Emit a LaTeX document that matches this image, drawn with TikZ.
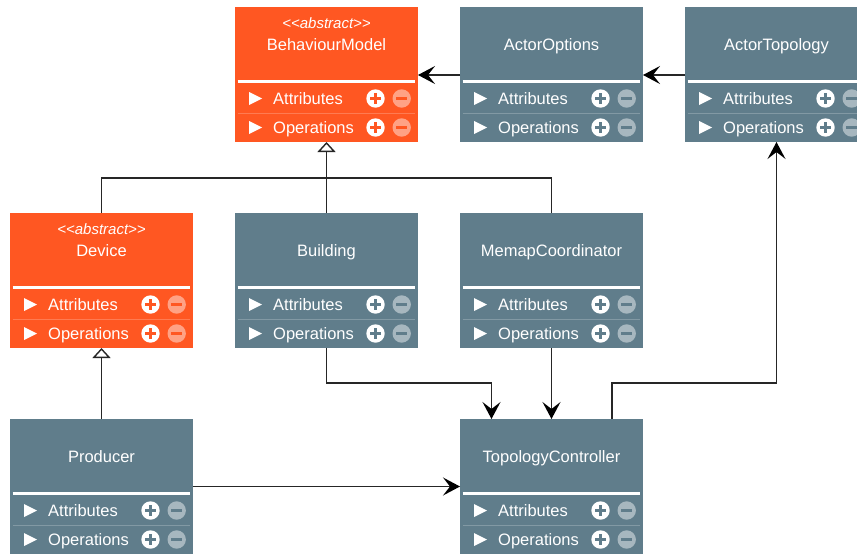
\documentclass[tikz,border=0pt]{standalone}
\usepackage{fontspec}
\setmainfont{Liberation Sans}
\usetikzlibrary{arrows.meta,calc}

\definecolor{umlorange}{HTML}{FF5722}
\definecolor{umlslate}{HTML}{607D8B}
\definecolor{wirecol}{HTML}{262626}

\tikzset{
  classbox/.style={anchor=north west, minimum width=183pt, minimum height=135pt,
    inner sep=0pt, outer sep=0pt},
  classname/.style={text=white, font=\fontsize{16.5}{18}\selectfont, inner sep=0pt,
    text height=12pt, text depth=0pt},
  stereo/.style={text=white, font=\fontsize{15}{17}\selectfont\itshape, inner sep=0pt,
    text height=11pt, text depth=0pt},
  rowlabel/.style={text=white, font=\fontsize{16.5}{18}\selectfont, anchor=west,
    inner sep=0pt, text height=12pt, text depth=0pt},
  wire/.style={draw=wirecol, line width=1.4pt},
  assoc/.style={wire, -{Stealth[length=17pt,width=18pt,inset=7pt,color=black]}},
  inherit/.style={wire, -{Triangle[open,length=10pt,width=18pt,fill=white,line width=1.4pt]}},
}

% compartment rows shared by every class box (local coordinates)
\newcommand\classrows[2]{%
  \draw[white, line width=2.5pt] (2.7,74.5) -- (180.3,74.5);
  \draw[white, opacity=0.22, line width=0.8pt] (2.7,106) -- (180.3,106);
  \foreach \yy/\lbl/\suffix in {91.5/Attributes/attr, 120.5/Operations/ops} {
    \fill[white] (14,\yy-6.5) -- (14,\yy+6.5) -- (27,\yy) -- cycle;
    \node[rowlabel] (#1-\suffix) at (38,\yy) {\lbl};
    \fill[white] (140.5,\yy) circle[radius=9.2pt];
    \draw[#2, line width=2.6pt] (135,\yy) -- (146,\yy) (140.5,\yy-5.5) -- (140.5,\yy+5.5);
    \fill[white, opacity=0.45] (166.7,\yy) circle[radius=9.2pt];
    \draw[#2, line width=2.6pt] (161.2,\yy) -- (172.2,\yy);
  }%
}

% plain class: name, x, y, colour, title
\newcommand\umlclass[5]{%
  \begin{scope}[shift={(#2,#3)}]
    \node[classbox, fill=#4] (#1) at (0,0) {};
    \node[classname] (#1-title) at (91.5,37.5) {#5};
    \classrows{#1}{#4}
  \end{scope}%
}

% abstract class: same with a stereotype line above the title
\newcommand\umlabstract[5]{%
  \begin{scope}[shift={(#2,#3)}]
    \node[classbox, fill=#4] (#1) at (0,0) {};
    \node[stereo] (#1-stereo) at (91.5,16) {{<}{<}abstract{>}{>}};
    \node[classname] (#1-title) at (91.5,37) {#5};
    \classrows{#1}{#4}
  \end{scope}%
}

\begin{document}
\begin{tikzpicture}[x=1pt, y=-1pt]
  \useasboundingbox (0,0) rectangle (857,554);
  \fill[white] (0,0) rectangle (857,554);
  \clip (0,0) rectangle (857,554);

  % classes
  \umlabstract{BehaviourModel}{235}{7}{umlorange}{BehaviourModel}
  \umlclass{ActorOptions}{460}{7}{umlslate}{ActorOptions}
  \umlclass{ActorTopology}{685}{7}{umlslate}{ActorTopology}
  \umlabstract{Device}{10}{213}{umlorange}{Device}
  \umlclass{Building}{235}{213}{umlslate}{Building}
  \umlclass{MemapCoordinator}{460}{213}{umlslate}{MemapCoordinator}
  \umlclass{Producer}{10}{419}{umlslate}{Producer}
  \umlclass{TopologyController}{460}{419}{umlslate}{TopologyController}

  % generalisations
  \coordinate (join) at (Building.north |- 0,178);
  \draw[wire] (Device.north) |- (join);
  \draw[wire] (MemapCoordinator.north) |- (join);
  \draw[inherit] (Building.north) -- (BehaviourModel.south);
  \draw[inherit] (Producer.north) -- (Device.south);

  % associations
  \draw[assoc] (ActorOptions.west |- 0,75) -- (BehaviourModel.east |- 0,75);
  \draw[assoc] (ActorTopology.west |- 0,75) -- (ActorOptions.east |- 0,75);
  \draw[assoc] (Producer.east) -- (TopologyController.west);
  \coordinate (tcIn) at ($(TopologyController.north west)+(31.5,0)$);
  \coordinate (tcOut) at ($(TopologyController.north west)+(152,0)$);
  \draw[assoc] (Building.south) -- ++(0,35) -| (tcIn);
  \draw[assoc] (MemapCoordinator.south) -- (TopologyController.north);
  \draw[assoc] (tcOut) -- ++(0,-36) -| (ActorTopology.south);
\end{tikzpicture}
\end{document}
